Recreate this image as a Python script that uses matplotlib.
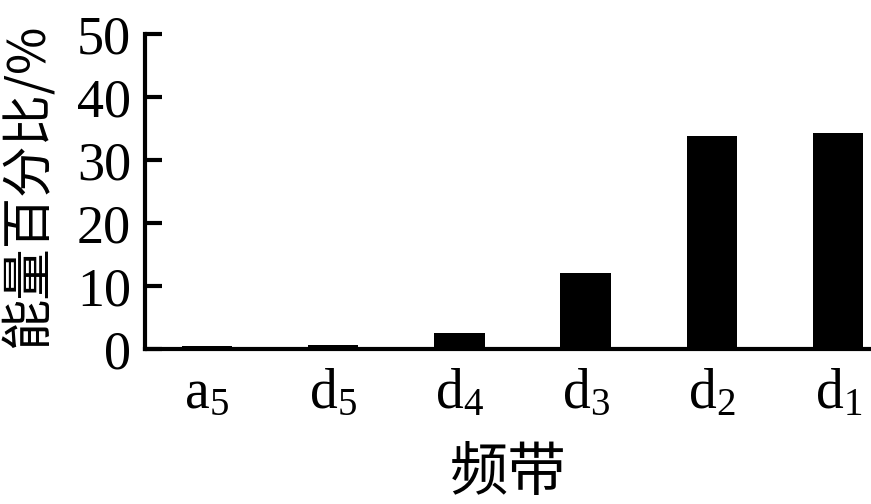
import matplotlib
matplotlib.use("Agg")
import matplotlib.pyplot as plt

categories = ["a_5", "d_5", "d_4", "d_3", "d_2", "d_1"]
values = [0.5, 0.6, 2.6, 12.0, 33.8, 34.3]
yticks = [0, 10, 20, 30, 40, 50]

plt.rcParams['mathtext.fontset'] = 'custom'
plt.rcParams['mathtext.rm'] = 'Liberation Serif'
plt.rcParams['mathtext.it'] = 'Liberation Serif'
plt.rcParams['font.family'] = ['Liberation Serif', 'Noto Sans CJK SC', 'DejaVu Sans']

fig = plt.figure(figsize=(8.71, 5.04), dpi=100)
ax = fig.add_axes([145/871, 1-349/504, 1-145/871, (349-34)/504])

x = list(range(len(categories)))
ax.bar(x, values, width=0.4, color='black')
ax.set_xlim(-0.49, 5.26)
ax.set_ylim(0, 50)
ax.set_yticks(yticks)
ax.set_yticklabels([str(t) for t in yticks], fontsize=39)
ax.set_xticks(x)
ax.set_xticklabels([r'$\mathrm{' + c.split('_')[0] + r'}_{' + c.split('_')[1] + r'}$' for c in categories], fontsize=40)

for s in ['top', 'right']:
    ax.spines[s].set_visible(False)
for s in ['left', 'bottom']:
    ax.spines[s].set_linewidth(3)
ax.tick_params(axis='y', direction='in', length=12, width=3, pad=10)
ax.tick_params(axis='x', length=0, pad=14)

fig.text(29/871, 1-186/504, '能量百分比/%', fontsize=37, family=['Noto Sans CJK SC'],
         rotation=90, ha='center', va='center')
ax.set_xlabel('频带', fontsize=42, family=['Noto Sans CJK SC'], labelpad=16)

fig.savefig('out.png', dpi=100)
